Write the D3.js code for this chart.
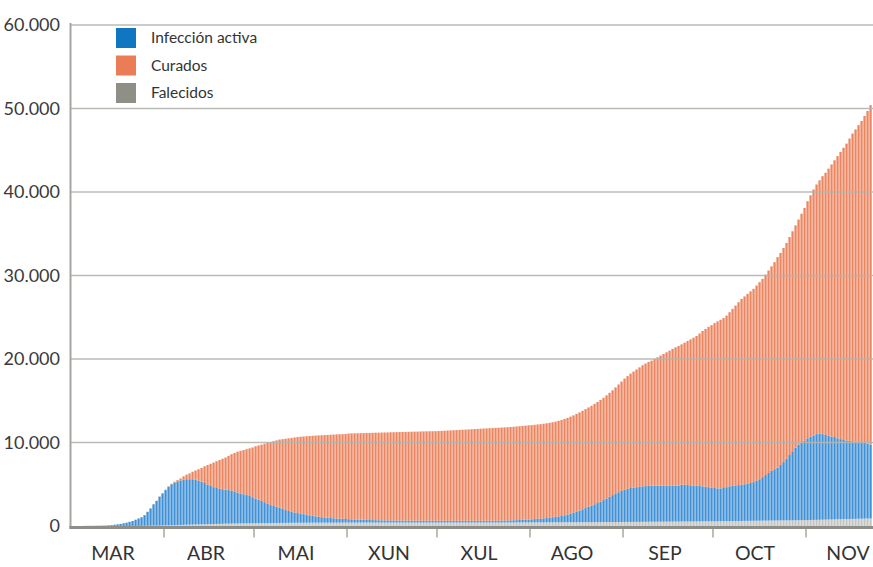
<!DOCTYPE html>
<html>
<head>
<meta charset="utf-8">
<script src="https://cdn.jsdelivr.net/npm/d3@7"></script>
<style>
  html, body { margin: 0; padding: 0; background: #fff; }
  svg { display: block; font-family: Lato, "Open Sans", sans-serif; }
</style>
</head>
<body>
<div id="chart"></div>
<script>
// Daily values, 1 March to 22 November, one row per month
const falecidos = [
  0,0,0,0,0,0,0,0,0,0,0,0,0,0,0,0,0,0,0,2,5,7,10,15,20,25,30,38,45,52,60,
  70,80,90,100,115,125,140,150,160,170,180,190,200,210,220,230,240,250,255,265,275,280,290,295,300,305,310,315,320,325,
  330,335,340,345,350,354,358,362,366,370,373,376,379,382,385,387,389,391,393,395,396,397,398,399,400,400,401,402,403,404,405,
  405,406,406,407,407,408,408,409,409,410,410,410,411,411,411,412,412,412,413,413,413,414,414,414,414,415,415,415,415,415,
  415,415,416,416,416,417,417,417,418,418,418,419,419,419,420,420,420,421,421,421,422,422,422,423,423,423,424,424,424,425,425,
  426,428,430,432,434,435,437,439,441,443,444,446,448,450,452,453,455,457,459,461,462,464,466,468,470,471,473,475,477,479,480,
  483,486,488,491,494,496,499,502,504,507,510,512,515,518,520,523,526,528,531,534,536,539,542,544,547,550,552,555,558,560,
  565,569,574,578,583,587,592,596,601,605,610,614,619,623,628,632,637,641,646,650,655,659,664,668,673,677,682,686,691,695,700,
  709,718,727,736,745,755,764,773,782,791,800,809,818,827,836,845,855,864,873,882,891,900
];

const activa = [
  0,0,0,0,10,20,30,30,40,40,50,60,80,100,150,200,250,330,400,500,595,745,890,1035,1280,1675,2070,2560,2955,3450,3840,
  4230,4620,4910,5100,5235,5325,5410,5450,5440,5430,5370,5260,5100,4940,4730,4570,4410,4300,4195,4135,4075,4020,3960,3855,3700,3595,3490,3385,3280,3125,
  2970,2815,2660,2505,2300,2146,2042,1938,1834,1680,1527,1424,1321,1238,1165,1113,1031,959,887,825,754,703,662,621,590,560,529,498,477,456,435,
  415,394,379,363,348,332,322,311,301,290,280,270,264,259,254,248,243,238,237,232,232,226,226,226,221,220,220,215,215,215,
  215,215,214,214,214,213,213,213,212,212,212,211,211,211,210,210,210,209,209,209,218,228,238,247,257,267,276,296,316,335,355,
  374,402,430,458,486,515,563,611,659,707,756,834,932,1050,1168,1297,1395,1543,1691,1839,1988,2136,2284,2432,2630,2829,3027,3225,3423,3571,3720,
  3867,3964,4062,4109,4156,4204,4251,4278,4296,4313,4320,4318,4315,4302,4310,4307,4314,4322,4319,4416,4414,4361,4338,4306,4283,4250,4198,4145,4092,4060,
  3985,3931,3926,3972,4067,4163,4208,4254,4299,4345,4390,4436,4531,4627,4772,4968,5213,5459,5704,5950,6145,6341,6636,6982,7377,7823,8268,8714,9059,9305,9500,
  9791,9982,10123,10264,10305,10245,10136,10027,9918,9859,9700,9591,9482,9423,9364,9305,9245,9186,9127,9068,8959,8850
];

const curados = [
  0,0,0,0,0,0,0,0,0,0,0,0,0,0,0,0,0,0,0,0,0,0,0,0,0,0,10,20,30,40,50,
  50,50,50,100,150,250,400,550,700,900,1100,1350,1650,2000,2350,2650,2950,3200,3450,3650,3850,4100,4350,4600,4900,5100,5300,5500,5700,5950,
  6250,6500,6750,7000,7300,7550,7750,7950,8150,8350,8550,8700,8850,8980,9100,9200,9300,9400,9500,9580,9680,9750,9810,9870,9920,9970,10020,10070,10110,10140,10180,
  10260,10290,10315,10340,10365,10390,10410,10430,10450,10470,10490,10510,10525,10540,10555,10570,10585,10600,10610,10625,10635,10650,10660,10670,10685,10695,10705,10715,10720,10725,
  10740,10760,10780,10800,10820,10840,10860,10880,10900,10920,10940,10960,10980,11000,11020,11040,11060,11080,11100,11120,11130,11140,11150,11160,11180,11200,11220,11230,11240,11260,11280,
  11280,11290,11300,11310,11330,11350,11360,11370,11400,11450,11500,11540,11570,11600,11630,11670,11750,11800,11850,11900,11950,12020,12100,12200,12250,12350,12450,12550,12700,12900,13100,
  13300,13500,13700,13900,14100,14300,14500,14670,14850,14980,15170,15370,15570,15780,15970,16170,16360,16550,16700,16800,17000,17250,17470,17700,17920,18250,18600,18900,19200,19430,
  19750,20000,20200,20350,20550,20850,21200,21550,21900,22250,22500,22750,22950,23150,23400,23600,23750,24000,24250,24500,24800,25200,25400,25650,25850,26100,26350,26600,26950,27400,27900,
  28400,28900,29450,29900,30350,30900,31400,32000,32600,33150,33800,34400,35000,35550,36200,36850,37400,37950,38500,39150,39850,40650
];

const months = ["MAR", "ABR", "MAI", "XUN", "XUL", "AGO", "SEP", "OCT", "NOV"];
const yTicks = [0, 10000, 20000, 30000, 40000, 50000, 60000];
const seriesNames = ["Infección activa", "Curados", "Falecidos"];

// Chart setup
const width = 873;
const height = 567;
const marginLeft = 71;
const marginTop = 25;
const baseline = 526;

const colors = {falecidos: "#c4c4c0", activa: "#3f90d5", curados: "#ec8661"};
const legendColors = ["#1176c1", "#ea7d55", "#8f8f88"];

const start = new Date(2020, 2, 1);
const days = d3.timeDay.range(start, d3.timeDay.offset(start, falecidos.length));
const data = days.map((d, i) => ({
  date: d,
  falecidos: falecidos[i],
  activa: activa[i],
  curados: curados[i]
}));

const x = d3.scaleTime()
    .domain([start, d3.timeDay.offset(start, 267)])
    .range([marginLeft, marginLeft + 801]);

const y = d3.scaleLinear()
    .domain([0, 60000])
    .range([baseline, marginTop]);

const fmt = d3.formatLocale({decimal: ",", thousands: ".", grouping: [3], currency: ["", "€"]}).format(",");

const stack = d3.stack().keys(["falecidos", "activa", "curados"]);
const series = stack(data);

const svg = d3.select("#chart").append("svg")
    .attr("width", width)
    .attr("height", height)
    .attr("viewBox", [0, 0, width, height]);

// Bars
svg.append("g")
  .selectAll("g")
  .data(series)
  .join("g")
    .attr("fill", s => colors[s.key])
  .selectAll("rect")
  .data(s => s)
  .join("rect")
    .attr("x", d => x(d.data.date) + 0.4)
    .attr("width", 2.3)
    .attr("y", d => y(d[1]))
    .attr("height", d => Math.max(0, y(d[0]) - y(d[1])));

// Gridlines drawn on top of the bars
svg.append("g")
  .selectAll("line")
  .data(yTicks.filter(t => t > 0))
  .join("line")
    .attr("x1", marginLeft)
    .attr("x2", width)
    .attr("y1", d => y(d))
    .attr("y2", d => y(d))
    .attr("stroke", "#b4b4ae")
    .attr("stroke-opacity", 0.9)
    .attr("stroke-width", 1.6);

// Y axis
svg.append("line")
    .attr("x1", marginLeft - 0.5).attr("x2", marginLeft - 0.5)
    .attr("y1", marginTop - 2).attr("y2", baseline + 3)
    .attr("stroke", "#a5a59f")
    .attr("stroke-width", 2);

svg.append("g")
  .selectAll("text")
  .data(yTicks)
  .join("text")
    .attr("x", 60)
    .attr("y", d => y(d))
    .attr("dy", "0.36em")
    .attr("text-anchor", "end")
    .attr("font-size", 18)
    .attr("fill", "#3a3a3a")
    .text(d => fmt(d));

// X axis
const xAxis = svg.append("g")
    .attr("transform", `translate(0,${baseline + 1.5})`);

xAxis.append("line")
    .attr("x1", marginLeft - 1.5)
    .attr("x2", width)
    .attr("stroke", "#8e8e88")
    .attr("stroke-width", 3);

const monthStarts = d3.timeMonth.range(start, new Date(2020, 11, 1));

xAxis.selectAll(".tick")
  .data(monthStarts.slice(1))
  .join("line")
    .attr("class", "tick")
    .attr("x1", d => x(d))
    .attr("x2", d => x(d))
    .attr("y1", 1.5)
    .attr("y2", 10)
    .attr("stroke", "#a8a8a2")
    .attr("stroke-width", 1.5);

xAxis.selectAll(".month")
  .data(months)
  .join("text")
    .attr("class", "month")
    .attr("x", (m, i) => x(new Date(2020, 2 + i, 15)))
    .attr("y", 32.5)
    .attr("text-anchor", "middle")
    .attr("font-size", 19.5)
    .attr("fill", "#333")
    .text(m => m);

// Legend
const legend = svg.append("g")
    .attr("transform", "translate(116,28)");

const item = legend.selectAll("g")
  .data(seriesNames)
  .join("g")
    .attr("transform", (d, i) => `translate(0,${i * 27.5})`);

item.append("rect")
    .attr("width", 20)
    .attr("height", 20)
    .attr("fill", (d, i) => legendColors[i]);

item.append("text")
    .attr("x", 35)
    .attr("y", 10)
    .attr("dy", "0.35em")
    .attr("font-size", 15.5)
    .attr("fill", "#333")
    .text(d => d);
</script>
</body>
</html>
